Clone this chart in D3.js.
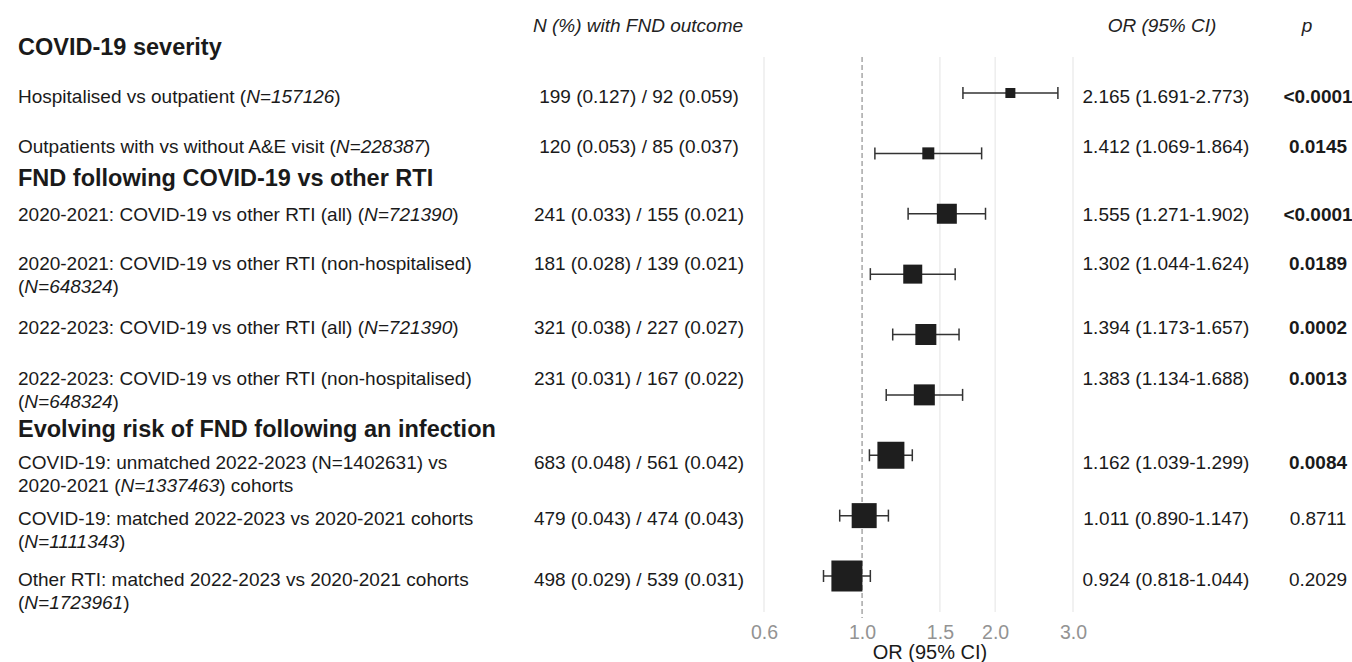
<!DOCTYPE html>
<html>
<head>
<meta charset="utf-8">
<script src="https://cdn.jsdelivr.net/npm/d3@7"></script>
<style>
  body { margin: 0; background: #fff; }
  text { font-family: "Liberation Sans", Arial, Helvetica, sans-serif; }
</style>
</head>
<body>
<script>
// section headings
var headings = ["COVID-19 severity", "FND following COVID-19 vs other RTI", "Evolving risk of FND following an infection"];

// row labels (lines; *...* is italic)
var labels = [
  ["Hospitalised vs outpatient (*N=157126*)"],
  ["Outpatients with vs without A&E visit (*N=228387*)"],
  ["2020-2021: COVID-19 vs other RTI (all) (*N=721390*)"],
  ["2020-2021: COVID-19 vs other RTI (non-hospitalised)", "(*N=648324*)"],
  ["2022-2023: COVID-19 vs other RTI (all) (*N=721390*)"],
  ["2022-2023: COVID-19 vs other RTI (non-hospitalised)", "(*N=648324*)"],
  ["COVID-19: unmatched 2022-2023 (N=1402631) vs", "2020-2021 (*N=1337463*) cohorts"],
  ["COVID-19: matched 2022-2023 vs 2020-2021 cohorts", "(*N=1111343*)"],
  ["Other RTI: matched 2022-2023 vs 2020-2021 cohorts", "(*N=1723961*)"]
];

var counts = [
  "199 (0.127) / 92 (0.059)", "120 (0.053) / 85 (0.037)",
  "241 (0.033) / 155 (0.021)", "181 (0.028) / 139 (0.021)",
  "321 (0.038) / 227 (0.027)", "231 (0.031) / 167 (0.022)",
  "683 (0.048) / 561 (0.042)", "479 (0.043) / 474 (0.043)",
  "498 (0.029) / 539 (0.031)"
];

var orValues = [2.165, 1.412, 1.555, 1.302, 1.394, 1.383, 1.162, 1.011, 0.924];
var ciLow    = [1.691, 1.069, 1.271, 1.044, 1.173, 1.134, 1.039, 0.890, 0.818];
var ciHigh   = [2.773, 1.864, 1.902, 1.624, 1.657, 1.688, 1.299, 1.147, 1.044];
var pValues  = ["<0.0001", "0.0145", "<0.0001", "0.0189", "0.0002", "0.0013", "0.0084", "0.8711", "0.2029"];
var weights  = [10, 12, 20, 19, 21, 21, 27, 25, 31];

var tickValues = [0.6, 1.0, 1.5, 2.0, 3.0];

// layout
var width = 1352, height = 662;
var textBase = [103, 153, 221, 270, 334, 385, 469, 525, 586];
var headBase = [55, 186, 437];
var lineH = 23;
var fs = "19px";

var svg = d3.select("body").append("svg")
    .attr("width", width)
    .attr("height", height);

var x = d3.scaleLog().domain([0.6, 3.0]).range([764, 1073]);
var y = d3.scalePoint().domain(d3.range(orValues.length)).range([93, 576]);
var size = d3.scaleLinear().domain([0, d3.max(weights)]).range([0, 31]);

// column headers
function header(txt, xpos) {
  svg.append("text")
      .attr("x", xpos).attr("y", 32)
      .attr("text-anchor", "middle")
      .style("font-size", fs)
      .style("font-style", "italic")
      .attr("fill", "#222")
      .text(txt);
}
header("N (%) with FND outcome", 638);
header("OR (95% CI)", 1162);
header("p", 1307);

// grid lines
svg.selectAll(".grid")
    .data(tickValues.filter(function(d) { return d !== 1; }))
    .enter().append("line")
    .attr("class", "grid")
    .attr("x1", function(d) { return x(d); })
    .attr("x2", function(d) { return x(d); })
    .attr("y1", 57).attr("y2", 612)
    .attr("stroke", "#e8e8e8")
    .attr("stroke-width", 1.2);

svg.append("line")
    .attr("x1", x(1)).attr("x2", x(1))
    .attr("y1", 57).attr("y2", 618)
    .attr("stroke", "#9a9a9a")
    .attr("stroke-width", 1.3)
    .attr("stroke-dasharray", "5,3");

// x axis
var xAxis = d3.axisBottom(x)
    .tickValues(tickValues)
    .tickFormat(d3.format(".1f"))
    .tickSize(0)
    .tickPadding(0);

var ax = svg.append("g")
    .attr("transform", "translate(0,620)")
    .call(xAxis);
ax.select(".domain").remove();
ax.selectAll("text")
    .attr("y", 19)
    .attr("dy", 0)
    .style("font-size", "19.5px")
    .style("font-family", "'Liberation Sans', Arial, sans-serif")
    .attr("fill", "#939393");

svg.append("text")
    .attr("x", 930).attr("y", 659)
    .attr("text-anchor", "middle")
    .style("font-size", "20px")
    .attr("fill", "#1a1a1a")
    .text("OR (95% CI)");

// headings
svg.selectAll(".heading")
    .data(headings)
    .enter().append("text")
    .attr("class", "heading")
    .attr("x", 18)
    .attr("y", function(d, i) { return headBase[i]; })
    .style("font-size", "23.5px")
    .style("font-weight", "bold")
    .attr("fill", "#1a1a1a")
    .text(function(d) { return d; });

// row labels with italic parts
labels.forEach(function(lines, i) {
  lines.forEach(function(line, j) {
    var t = svg.append("text")
        .attr("x", 18)
        .attr("y", textBase[i] + j * lineH)
        .style("font-size", fs)
        .attr("fill", "#1a1a1a");
    line.split("*").forEach(function(part, k) {
      if (!part) return;
      t.append("tspan")
          .style("font-style", k % 2 ? "italic" : "normal")
          .text(part);
    });
  });
});

// counts column
svg.selectAll(".count")
    .data(counts)
    .enter().append("text")
    .attr("class", "count")
    .attr("x", 639)
    .attr("y", function(d, i) { return textBase[i]; })
    .attr("text-anchor", "middle")
    .style("font-size", fs)
    .attr("fill", "#1a1a1a")
    .text(function(d) { return d; });

// OR column
svg.selectAll(".ortxt")
    .data(orValues)
    .enter().append("text")
    .attr("class", "ortxt")
    .attr("x", 1166)
    .attr("y", function(d, i) { return textBase[i]; })
    .attr("text-anchor", "middle")
    .style("font-size", fs)
    .attr("fill", "#1a1a1a")
    .text(function(d, i) {
      return d.toFixed(3) + " (" + ciLow[i].toFixed(3) + "-" + ciHigh[i].toFixed(3) + ")";
    });

// p column
svg.selectAll(".ptxt")
    .data(pValues)
    .enter().append("text")
    .attr("class", "ptxt")
    .attr("x", 1318)
    .attr("y", function(d, i) { return textBase[i]; })
    .attr("text-anchor", "middle")
    .style("font-size", fs)
    .style("font-weight", function(d) {
      return (d.charAt(0) === "<" || +d < 0.05) ? "bold" : "normal";
    })
    .attr("fill", "#1a1a1a")
    .text(function(d) { return d; });

// CI whiskers
var rows = svg.selectAll(".row")
    .data(orValues)
    .enter().append("g")
    .attr("class", "row");

rows.append("line")
    .attr("x1", function(d, i) { return x(ciLow[i]); })
    .attr("x2", function(d, i) { return x(ciHigh[i]); })
    .attr("y1", function(d, i) { return y(i); })
    .attr("y2", function(d, i) { return y(i); })
    .attr("stroke", "#333")
    .attr("stroke-width", 1.5);

[ciLow, ciHigh].forEach(function(arr) {
  rows.append("line")
      .attr("x1", function(d, i) { return x(arr[i]); })
      .attr("x2", function(d, i) { return x(arr[i]); })
      .attr("y1", function(d, i) { return y(i) - 6; })
      .attr("y2", function(d, i) { return y(i) + 6; })
      .attr("stroke", "#333")
      .attr("stroke-width", 1.5);
});

// point estimate boxes
rows.append("rect")
    .attr("x", function(d, i) { return x(d) - size(weights[i]) / 2; })
    .attr("y", function(d, i) { return y(i) - size(weights[i]) / 2; })
    .attr("width", function(d, i) { return size(weights[i]); })
    .attr("height", function(d, i) { return size(weights[i]); })
    .attr("fill", "#1e1e1e");
</script>
</body>
</html>
